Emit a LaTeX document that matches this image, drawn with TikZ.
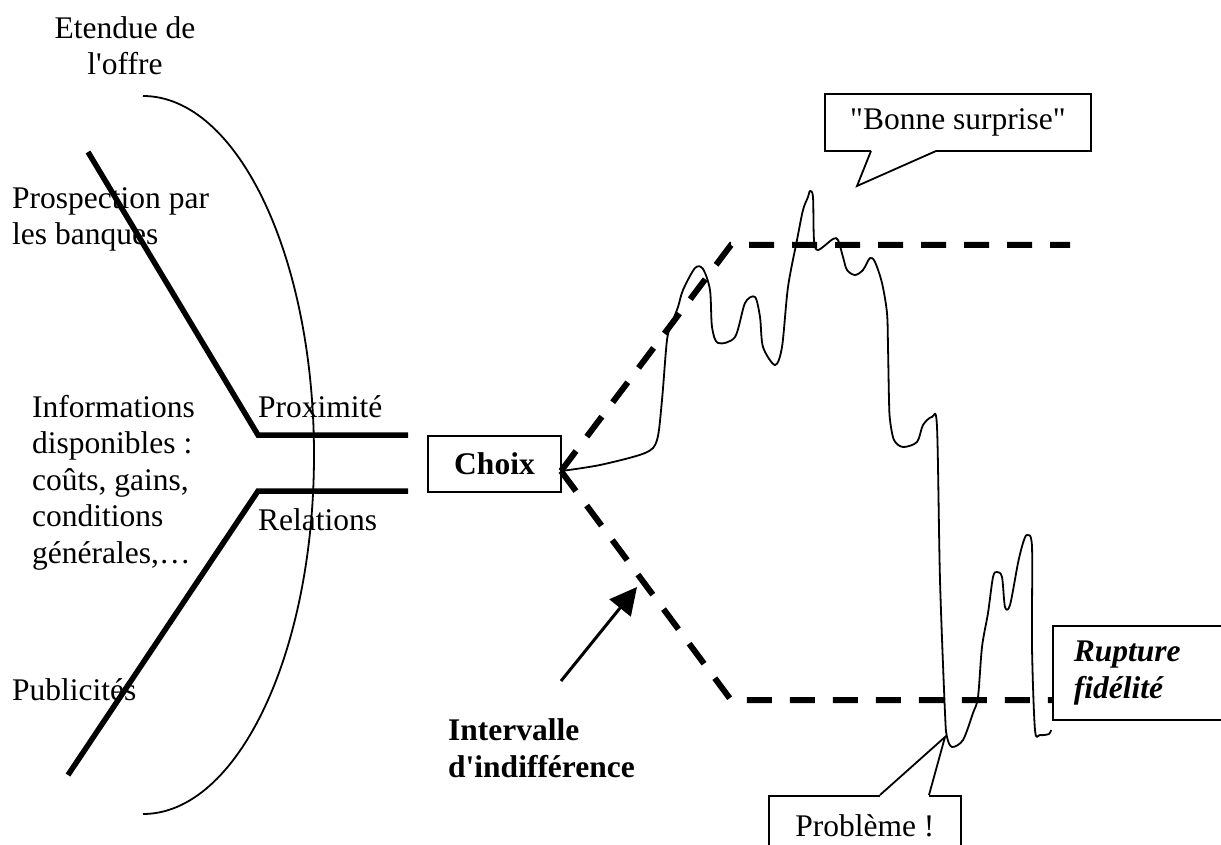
\documentclass[tikz,border=0pt]{standalone}
\usepackage{fontspec}
\setmainfont{Liberation Serif}
\usetikzlibrary{arrows.meta}
\usetikzlibrary{calc}
\newcommand\bigfont{\fontsize{31.5}{36.5}\selectfont}

\begin{document}
\begin{tikzpicture} [
            x=1pt, y=-1pt,
            every node/.style={font=\bigfont, inner sep=0pt},
            lefttext/.style={anchor=base west, align=left},
            box/.style={draw, line width=1.8pt},
            thickline/.style={line width=5.5pt},
            dashlevel/.style={line width=6pt, dash pattern=on 25pt off 18pt},
            fluct/.style={line width=1.8pt, line join=round}
        ]
        \useasboundingbox (0,0) rectangle (1221,845);
        \clip (0,0) rectangle (1221,845);
        % left side (multi-line texts sit on their last baseline)
        \node[lefttext, align=center, anchor=base] (etendue) at (125,75) {Etendue de\\l\textquotesingle offre};
        \node[lefttext] (prospection) at (12,245) {Prospection par\\les banques};
        \node[lefttext] (informations) at (32,563) {Informations\\disponibles :\\coûts, gains,\\conditions\\générales,…};
        \node[lefttext] (proximite) at (258,417) {Proximité};
        \node[lefttext] (relations) at (258,530) {Relations};
        \node[lefttext] (publicites) at (12,700) {Publicités};
        \draw[line width=1.8pt] (143,96) arc[start angle=-90, end angle=90, x radius=171, y radius=359];
        \coordinate (prosp-end) at (88,152);
        \coordinate (prox-knee) at (258,435);
        \coordinate (prox-end) at (408,435);
        \coordinate (pub-end) at (68,775);
        \coordinate (rel-knee) at (258,491);
        \coordinate (rel-end) at (408,491);
        \draw[thickline] (prosp-end) -- (prox-knee) -- (prox-end);
        \draw[thickline] (pub-end) -- (rel-knee) -- (rel-end);

        \node[box, minimum width=133, minimum height=56, font=\bigfont\bfseries] (choix) at (494.5,464) {Choix};
        \node[box, anchor=north west, minimum height=94, text width=160, inner xsep=21pt, align=left, font=\bigfont\bfseries\itshape] (rupture) at (1052,625) {Rupture\\fidélité};

        % indifference interval
        \coordinate (vertex) at (561,471);
        \coordinate (high-knee) at (731,245);
        \coordinate (high-end) at (1070,245);
        \coordinate (low-knee) at (731,700);
        \draw[dashlevel] (vertex) -- (high-knee) -- (high-end);
        \draw[dashlevel] (vertex) -- (low-knee) -- (rupture.west |- low-knee);
        \node[lefttext, font=\bigfont\bfseries] (intervalle) at (448,777) {Intervalle\\d\textquotesingle indifférence};
        \coordinate (indiff-foot) at (561,681);
        \coordinate (indiff-tip) at (637,587);
        \draw[line width=3pt, -{Triangle[length=27pt, width=27pt]}] (indiff-foot) -- (indiff-tip);

        \draw[fluct] plot[smooth, tension=0.5] coordinates {
            (vertex) (600,465) (645,453) (657,440) (662,400) (667,340) (672,323)
            (678,307) (683,290) (695,268) (703,269) (710,290) (712,327) (718,343)
            (735,337) (745,303) (755,297) (760,317) (763,347) (775,365) (782,347)
            (788,287) (797,240) (803,210) (808,197) (810,191) (813,197) (814,240)
            (818,250) (833,239) (838,240) (843,257) (847,270) (855,275) (863,270)
            (870,258) (875,262) (882,283) (887,313) (888,347) (889,400) (890,420)
            (894,440) (903,447) (917,442) (923,425) (932,417) (937,427) (940,580)
            (945,713) (947,737) (952,747) (963,740) (973,713) (978,697) (982,647)
            (988,613) (993,577) (997,572) (1002,577) (1005,607) (1010,605)
            (1018,563) (1023,543) (1027,535) (1032,547) (1032,647) (1035,730)
            (1040,735) (1049,734) (1051,730)};

        % callouts
        \node[box, minimum width=266, minimum height=57] (bonne) at (958,122.5) {\textquotedbl Bonne surprise\textquotedbl};
        \coordinate (surprise-tip) at (857,186);
        \fill[white] (871,146) rectangle (936,153);
        \draw[line width=1.8pt] (871,151) -- (surprise-tip) -- (936,151);
        \node[box, anchor=north west, minimum width=192, minimum height=60] (probleme) at (768,795) {Problème !};
        \coordinate (probleme-tip) at (945,737);
        \fill[white] (880,792) rectangle (929,798);
        \draw[line width=1.8pt] (880,795) -- (probleme-tip) -- (929,795);
    \end{tikzpicture}
\end{document}
